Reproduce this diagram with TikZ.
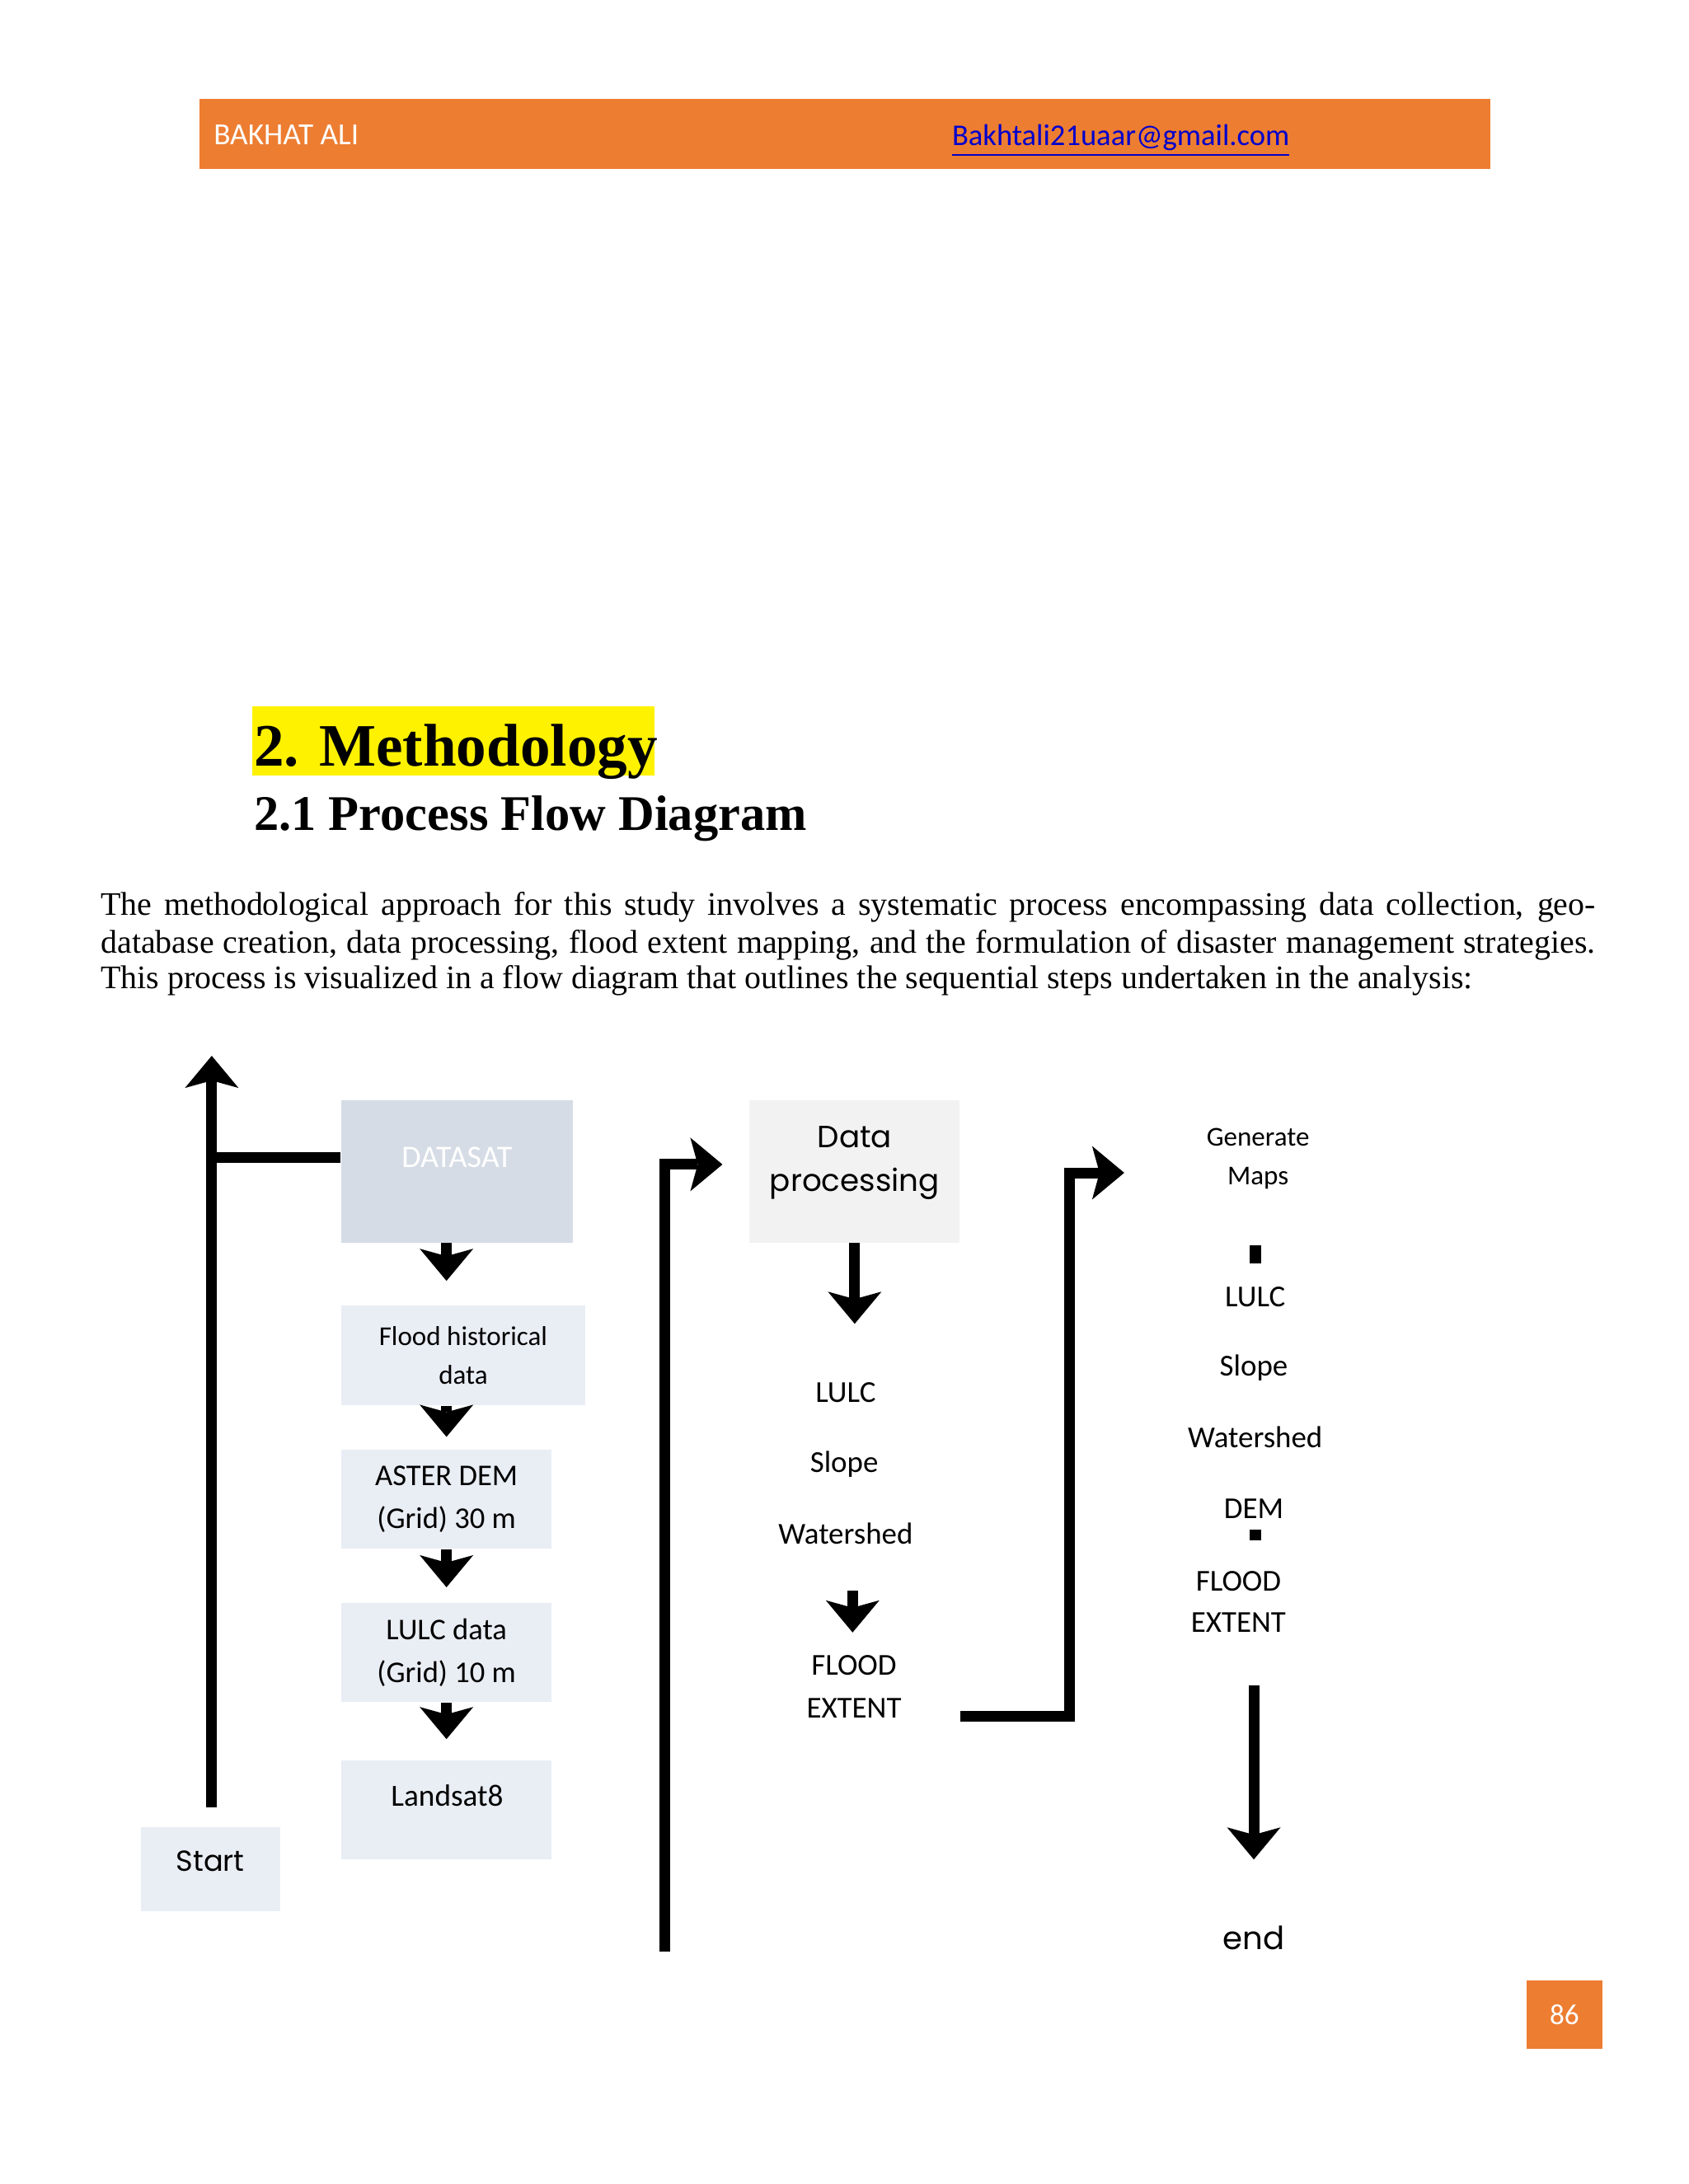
\documentclass[tikz,border=0pt]{standalone}
\usepackage{fontspec}
\setmainfont{Liberation Serif}
\newfontfamily\calib{Carlito}
\newfontfamily\gothic{Poppins}
\usetikzlibrary{arrows.meta,calc}
\definecolor{hdr}{HTML}{ED7D31}
\definecolor{linkblue}{HTML}{0000CC}
\definecolor{boxA}{HTML}{D6DCE5}
\definecolor{boxB}{HTML}{E9EDF4}
\definecolor{boxC}{HTML}{F2F2F2}
\newcommand\fsz[2]{\fontsize{#1}{#2}\selectfont}
\begin{document}
\begin{tikzpicture}[x=0.16898mm,y=-0.16898mm,
  bx/.style n args={3}{fill=#1,draw=none,inner sep=0pt,minimum width=#2*0.16898mm,minimum height=#3*0.16898mm},
  lbl/.style={inner sep=0pt,align=center,font=\calib\fsz{10.4pt}{14.9pt}},
  glbl/.style={inner sep=0pt,align=center,font=\gothic\fsz{10.6pt}{14.9pt}},
  conn/.style={line width=1.3mm,line join=miter},
  arr/.style={conn,-{Stealth[length=3.9mm,width=6.5mm,inset=0.9mm,line width=0pt]}},
  body/.style={inner sep=0pt,anchor=base west,font=\fsz{11.35pt}{13pt}}
]
\useasboundingbox (0,0) rectangle (1212,1568);

% header bar
\node[bx={hdr}{927}{50}] (bar) at (606.5,96) {};
\node[inner sep=0pt,anchor=west,text=white,font=\calib\fsz{10.6pt}{12pt}] (author) at (153,97) {BAKHAT ALI};
\node[inner sep=0pt,anchor=west,text=linkblue,font=\calib\fsz{10.4pt}{12pt}] (mail) at (683,101) {\underline{Bakhtali21uaar@gmail.com}};

% headings
\fill[yellow] (181,507) rectangle (470,557);
\node[inner sep=0pt,anchor=base west,font=\bfseries\fsz{20.8pt}{24pt}] (h1) at (182,550) {2. Methodology};
\node[inner sep=0pt,anchor=base west,font=\bfseries\fsz{17.2pt}{20pt}] (h2) at (182,596) {2.1 Process Flow Diagram};

% paragraph
\node[body] (p1) at (72,657) {\makebox[181.3mm][s]{The methodological approach for this study involves a systematic process encompassing data collection, geo-}};
\node[body] (p2) at (72,684) {\makebox[181.3mm][s]{database creation, data processing, flood extent mapping, and the formulation of disaster management strategies.}};
\node[body] (p3) at (72,710) {This process is visualized in a flow diagram that outlines the sequential steps undertaken in the analysis:};

% left column boxes
\node[bx={boxA}{166}{102}] (datasat) at (328,841) {};
\node[lbl,text=white,font=\calib\fsz{10.8pt}{13pt}] (datasat-t) at (328,831) {DATASAT};
\node[bx={boxB}{175}{72},lbl,font=\calib\fsz{9.4pt}{13.5pt}] (flood) at (332.5,973) {Flood historical\\data};
\node[bx={boxB}{151}{71},lbl] (aster) at (320.5,1076.5) {ASTER DEM\\(Grid) 30 m};
\node[bx={boxB}{151}{71},lbl] (lulcd) at (320.5,1186.5) {LULC data\\(Grid) 10 m};
\node[bx={boxB}{151}{71}] (landsat) at (320.5,1299.5) {};
\node[lbl,font=\calib\fsz{10.6pt}{13pt}] (landsat-t) at (321,1289) {Landsat8};
\node[bx={boxB}{100}{60}] (start) at (151,1342) {};
\node[glbl,font=\gothic\fsz{10pt}{12pt}] (start-t) at (151,1336) {Start};

% left connectors
\coordinate (lBot) at ($(start.north)+(1,-14)$);
\coordinate (lTop) at (152,758);
\draw[arr] (lBot) -- (lTop);
\draw[conn] (lTop |- datasat-t) -- (datasat.west |- datasat-t);
\draw[arr] (aster.north |- datasat.south) -- ($(aster.north |- flood.north)+(0,-17)$);
\draw[arr] (aster.north |- flood.south) -- ($(aster.north)+(0,-9)$);
\draw[arr] (aster.south) -- ($(lulcd.north)+(0,-11)$);
\draw[arr] (lulcd.south) -- ($(landsat.north)+(0,-15)$);

% middle column
\node[bx={boxC}{151}{102}] (dataproc) at (613.5,841) {};
\node[glbl] (dataproc-t) at (613.5,835) {Data\\processing};
\node[lbl,font=\calib\fsz{10.5pt}{13pt}] (m-lulc) at (607,1000) {LULC};
\node[lbl,font=\calib\fsz{10.5pt}{13pt}] (m-slope) at (606,1051) {Slope};
\node[lbl,font=\calib\fsz{10.5pt}{13pt}] (m-wshed) at (607,1101) {Watershed};
\node[lbl,font=\calib\fsz{10.5pt}{14.9pt}] (m-flood) at (613,1211) {FLOOD\\EXTENT};

\coordinate (midBot) at (477,1401);
\coordinate (dpIn) at ($(dataproc.west)+(-19,-5)$);
\draw[arr] (midBot) |- (dpIn);
\draw[arr] (dataproc.south) -- ($(dataproc.south)+(0,58)$);
\coordinate (smA) at ($(m-wshed.south)+(5,33)$);
\coordinate (smB) at ($(m-flood.north)+(-1,-16)$);
\draw[arr] (smA) -- (smA |- smB);

% right column
\node[lbl,font=\calib\fsz{9.4pt}{13.5pt}] (r-gen) at (903,832) {Generate\\Maps};
\node[lbl,font=\calib\fsz{10.5pt}{13pt}] (r-lulc) at (901,931) {LULC};
\node[lbl,font=\calib\fsz{10.5pt}{13pt}] (r-slope) at (900,982) {Slope};
\node[lbl,font=\calib\fsz{10.5pt}{13pt}] (r-wshed) at (901,1032) {Watershed};
\node[lbl,font=\calib\fsz{10.5pt}{13pt}] (r-dem) at (900,1083) {DEM};
\node[lbl,font=\calib\fsz{10.5pt}{14.4pt}] (r-flood) at (889,1150) {FLOOD\\EXTENT};
\node[glbl,font=\gothic\fsz{11pt}{13pt}] (r-end) at (900,1391) {end};

\coordinate (feOut) at (dataproc.east |- 0,1232);
\coordinate (gmIn) at (807,842);
\draw[arr] (feOut) -| ($(gmIn)+(-39,0)$) -- (gmIn);

\fill (897,894) rectangle (905,907);
\fill (897,1098) rectangle (905,1106);

\coordinate (endA) at (900,1210);
\coordinate (endB) at (900,1335);
\draw[arr] (endA) -- (endB);

% page number
\node[bx={hdr}{54}{49},text=white,font=\calib\fsz{10pt}{12pt}] (pg) at (1123,1446.5) {86};
\end{tikzpicture}
\end{document}
